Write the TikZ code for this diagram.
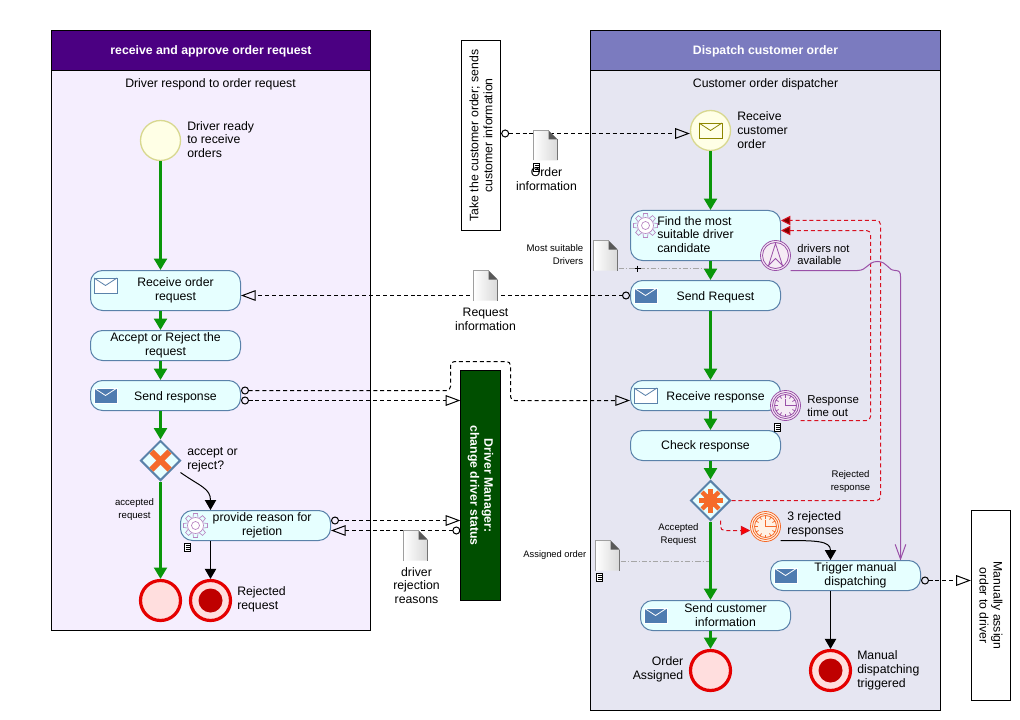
\documentclass[tikz,border=0pt]{standalone}
\usepackage{fontspec}
\setmainfont{Liberation Sans}
\usetikzlibrary{arrows.meta,shapes.geometric}
\definecolor{taskfill}{HTML}{E6FFFF}
\definecolor{taskline}{HTML}{5A82AA}
\definecolor{seqgreen}{HTML}{0A960A}
\definecolor{flowred}{HTML}{D81020}
\definecolor{flowpurple}{HTML}{9A50A8}
\definecolor{markorange}{HTML}{F56A2A}
\definecolor{envblue}{HTML}{4F7CB0}
\definecolor{leftlane}{HTML}{F5EEFE}
\definecolor{rightlane}{HTML}{E6E6F2}
\definecolor{lefthead}{HTML}{4B0082}
\definecolor{righthead}{HTML}{7B7BBF}
\definecolor{startfill}{HTML}{FFFFE6}
\definecolor{startline}{HTML}{D8D890}
\tikzset{
mainfont/.style={font=\fontsize{9.2}{10.4}\selectfont},
smallfont/.style={font=\fontsize{7.2}{9.4}\selectfont},
taskbox/.style={draw=taskline, fill=taskfill, line width=0.75pt, rounded corners=9pt, minimum width=112.5pt, minimum height=22.5pt, inner sep=0pt, align=center},
tallbox/.style={taskbox, minimum height=30pt},
icontask/.style={taskbox, label={[align=center,xshift=7.5pt]center:#1}},
onetask/.style={taskbox, label={[align=center,xshift=7.5pt,yshift=-1pt]center:#1}},
talltask/.style={tallbox, label={[align=center,xshift=7.5pt]center:#1}},
startevent/.style={circle, draw=startline, fill=startfill, line width=1pt, minimum size=30pt, inner sep=0pt},
endevent/.style={circle, draw=red!90!black, fill=red!13!white, line width=2.4pt, minimum size=30pt, inner sep=0pt},
endcore/.style={circle, fill=red!75!black, minimum size=18pt, inner sep=0pt},
gateway/.style={diamond, draw=taskline, fill=taskfill, line width=1.5pt, minimum size=30pt, inner sep=0pt},
bound/.style={circle, minimum size=22.5pt, inner sep=0pt},
lbl/.style={anchor=west, align=left, inner sep=0pt},
lblr/.style={anchor=east, align=right, inner sep=0pt},
lblc/.style={align=center, inner sep=0pt},
headbox/.style={draw=black, text=white, line width=0.75pt, minimum height=30pt, inner sep=0pt, font=\fontsize{9.2}{10.4}\selectfont\bfseries, text depth=1.4pt, text height=8pt},
blackpool/.style={draw=black, fill=white, line width=0.75pt, align=center, inner sep=0pt, minimum height=29.5pt},
seqflow/.style={draw=seqgreen, line width=2.2pt, -{Triangle[length=8.5pt,width=9.5pt,fill=seqgreen]}},
blackflow/.style={line width=0.75pt, -{Triangle[length=7.5pt,width=8.5pt]}},
msgflow/.style={line width=0.75pt, dash pattern=on 3pt off 2.2pt, {Circle[open,length=6pt,width=6pt,sep=-0pt]}-{Triangle[open,length=11pt,width=8pt]}},
redflow/.style={draw=flowred, line width=0.75pt, dash pattern=on 3pt off 2.2pt, rounded corners=3pt},
assoc/.style={draw=gray!70, line width=0.5pt, dash pattern=on 4pt off 1.5pt on 1pt off 1.5pt},
envpic/.pic={
\draw[pic actions, line width=0.6pt] (-11.5,-7.5) rectangle (11.5,7.5);
\draw[pic actions, fill=none, line width=0.6pt] (-11.5,-7.5) -- (0,0) -- (11.5,-7.5);
},
docpic/.pic={
\path[left color=white, right color=gray!30] (0,0) -- (15,0) -- (24,9) -- (24,30) -- (0,30) -- cycle;
\draw[gray!75, line width=0.5pt] (0,30) -- (0,0) -- (15,0);
\draw[gray!90!black, line width=0.5pt] (24,30) -- (24,9);
\fill[gray!70!black] (15,0) -- (24,9) -- (15,9) -- cycle;
},
notepic/.pic={
\draw[line width=0.5pt, fill=white] (-3,-4) rectangle (3,4);
\foreach \y in {-2,0,2}
{
\draw[line width=0.4pt] (-2,\y) -- (2,\y);
}
},
gearpic/.pic={
\foreach \a in {0,45,...,315}
{
\draw[flowpurple!70, line width=0.5pt, rotate=\a] (-2.5,-8) -- (-2,-12) -- (2,-12) -- (2.5,-8);
}
\draw[flowpurple!70, line width=0.5pt, fill=white] (0,0) circle [radius=8];
\draw[flowpurple!70, line width=0.5pt] (0,0) circle [radius=4];
},
clockpic/.pic={
\draw[pic actions, line width=0.6pt] (0,0) circle [radius=15];
\draw[pic actions, line width=0.6pt] (0,0) circle [radius=13];
\draw[pic actions, line width=0.6pt] (0,0) circle [radius=11];
\foreach \a in {0,30,...,330}
{
\draw[pic actions, line width=0.6pt, rotate=\a] (0,-11) -- (0,-8);
}
\draw[pic actions, line width=0.6pt] (0,-7) -- (0,0) -- (8,0);
}
}
\begin{document}
\begin{tikzpicture}[x=0.75pt, y=-0.75pt, mainfont]
\useasboundingbox (-0.5,-0.5) rectangle (1019.5,719.5);
\fill[white] (-0.5,-0.5) rectangle (1019.5,719.5);
% pools
\draw [fill=leftlane, line width=0.75pt] (51,30) rectangle (370,630);
\draw [fill=rightlane, line width=0.75pt] (590,30) rectangle (940,710);
\node [headbox, fill=lefthead, minimum width=239.25pt] (headl) at (210.5,50) {receive and approve order request};
\node [headbox, fill=righthead, minimum width=262.5pt] (headr) at (765,50) {Dispatch customer order};
\node [lblc] (lanel) at (210,84) {Driver respond to order request};
\node [lblc] (laner) at (765,84) {Customer order dispatcher};
% black box pools
\node [blackpool, rotate=90, minimum width=142.5pt] (takeorder) at (480.5,135) {Take the customer order; sends\\customer information};
\node [blackpool, rotate=-90, minimum width=172.5pt, fill=green!31!black, text=white, font=\fontsize{9.2}{10.4}\selectfont\bfseries] (drvmgr) at (480,485) {Driver Manager:\\change driver status};
\node [blackpool, rotate=-90, minimum width=142.5pt] (manual) at (990.5,605) {Manually assign\\order to driver};
% left lane
\node [startevent] (startl) at (160,140) {};
\node [talltask={Receive order\\request}] (recvorder) at (165,290) {};
\node [taskbox] (acceptrej) at (165,345) {Accept or Reject the\\request};
\node [onetask={Send response}] (sendresp) at (165,395) {};
\node [gateway] (gwl) at (160,460) {};
\node [taskbox, label={[align=center,xshift=5pt]center:provide reason for\\rejetion}] (reason) at (255,525) {};
\node [endevent] (endok) at (160,600) {};
\node [endevent] (endrej) at (210,600) {};
\node [endcore] (endrejc) at (210,600) {};
% right lane
\node [startevent] (startr) at (710,130) {};
\node [tallbox, minimum height=37.5pt] (find) at (705,235) {};
\node [onetask={Send Request}] (sendreq) at (705,295) {};
\node [onetask={Receive response}] (recvresp) at (705,395) {};
\node [taskbox, text height=8pt, text depth=1.4pt] (check) at (705,445) {Check response};
\node [gateway] (gwr) at (710,500) {};
\node [icontask={Send customer\\information}] (sendcust) at (715,615) {};
\node [icontask={Trigger manual\\dispatching}] (trigger) at (845,575) {};
\node [endevent] (endass) at (710,670) {};
\node [endevent] (endman) at (830,670) {};
\node [endcore] (endmanc) at (830,670) {};
\node [bound] (nodrv) at (775,255) {};
\node [bound] (timeout) at (785,405) {};
\node [bound] (timer) at (765,526) {};
% sequence flows
\foreach \a/\b in {startl/recvorder, recvorder/acceptrej, acceptrej/sendresp, sendresp/gwl, gwl/endok}
{
\draw [seqflow] (\a.south -| startl) -- (\b.north -| startl);
}
\foreach \a/\b in {startr/find, find/sendreq, sendreq/recvresp, recvresp/check, check/gwr, gwr/sendcust, sendcust/endass}
{
\draw [seqflow] (\a.south -| startr) -- (\b.north -| startr);
}
\coordinate (gwlexit) at (180,472);
\draw [blackflow] (gwlexit) .. controls (200,486) and (210,488) .. (reason.north -| endrej);
\draw [blackflow] (reason.south -| endrej) -- (endrej.north);
\draw [blackflow] (trigger.south -| endman) -- (endman.north);
\coordinate (timerexit) at (780,540);
\draw [blackflow] (timerexit) .. controls (815,540) and (830,540) .. (trigger.north -| endman);
% message flows
\draw [msgflow] ([yshift=1.5pt]takeorder.south) -- ([yshift=-2.25pt]startr.west);
\draw [msgflow] (sendreq.west) -- (recvorder.east |- sendreq.west);
\draw [msgflow] ([yshift=-3.75pt]sendresp.east) -- ([yshift=-3.75pt]sendresp.east -| drvmgr.south);
\coordinate (bendup) at (450,361);
\coordinate (benddown) at (510,400);
\draw [msgflow, rounded corners=3pt] ([yshift=3.75pt]sendresp.east) -| (bendup) -| (benddown) -- ([yshift=-3.75pt]recvresp.west);
\draw [msgflow] ([yshift=3.75pt]reason.east) -- ([yshift=3.75pt]reason.east -| drvmgr.south);
\draw [msgflow] ([yshift=-3.75pt]reason.east -| drvmgr.south) -- ([yshift=-3.75pt]reason.east);
\draw [msgflow] ([yshift=-3.75pt]trigger.east) -- ([yshift=-3.75pt]trigger.east -| manual.south);
% red and purple flows
\coordinate (redouter) at (880,220);
\coordinate (redinner) at (870,230);
\coordinate (timeoutexit) at (800,420);
\draw [redflow] (gwr.east) -| (redouter) -- (redouter -| find.east) [-{Triangle[length=7pt,width=7pt,fill=red!50!black]}];
\draw [redflow] (timeoutexit) -| (redinner) -- (redinner -| find.east) [-{Triangle[length=7pt,width=7pt,fill=red!50!black]}];
\coordinate (gwrexit) at (720,520);
\coordinate (gwrturn) at (720,530);
\draw [redflow, -{Triangle[length=7pt,width=7pt,fill=red]}] (gwrexit) -- (gwrturn) -- ([yshift=-3pt]timer.west);
\coordinate (nodrvexit) at (790,270);
\draw [flowpurple, line width=0.75pt, -{Straight Barb[length=11pt,width=8pt]}] (nodrvexit) -- (857,270) .. controls (867,270) and (867,261) .. (877,261) .. controls (887,261) and (887,270) .. (895,270) .. controls (899,270) and (900,272) .. (900,276) -- (900,560);
% associations
\coordinate (drvdocout) at (618,268);
\coordinate (drvseq) at (707,268);
\coordinate (assdocout) at (620,561);
\coordinate (assseq) at (708,561);
\draw [assoc] (drvdocout) -- (drvseq);
\draw [assoc] (assdocout) -- (assseq);
% gateway marks
\draw [markorange, line width=4.5pt] (151,451) -- (169,469);
\draw [markorange, line width=4.5pt] (169,451) -- (151,469);
\foreach \a in {0,45,90,135}
{
\draw [markorange, line width=3.2pt, rotate around={\a:(gwr)}] (698,500) -- (722,500);
}
\fill [markorange] (gwr) circle [radius=7];
% boundary events
\pic [draw=flowpurple, fill=violet!8!white] at (785,405) {clockpic};
\pic [draw=markorange, fill=orange!10!white] at (765,526) {clockpic};
\draw [flowpurple, line width=0.6pt, fill=violet!8!white] (nodrv) circle [radius=15];
\draw [flowpurple, line width=0.6pt] (nodrv) circle [radius=13];
\draw [flowpurple, line width=0.6pt] (775,243) -- (782,265) -- (775,258) -- (768,265) -- cycle;
% icons
\pic [draw=taskline, fill=white] at (105,285) {envpic};
\pic [draw=white, fill=envblue] at (105,395) {envpic};
\pic [draw=white, fill=envblue] at (645,295) {envpic};
\pic [draw=taskline, fill=white] at (645,395) {envpic};
\pic [draw=white, fill=envblue] at (655,615) {envpic};
\pic [draw=white, fill=envblue] at (785,575) {envpic};
\pic [draw=olive, fill=startfill] at (710,130) {envpic};
\pic at (645,225) {gearpic};
\pic at (195,525) {gearpic};
\pic at (533,130) {docpic};
\pic at (473,270) {docpic};
\pic at (593,240) {docpic};
\pic at (595,540) {docpic};
\pic at (403,530) {docpic};
\pic at (536,167) {notepic};
\pic at (187,547) {notepic};
\pic at (777,427) {notepic};
\pic at (599,577) {notepic};
\draw [line width=1pt] (634,268) -- (640,268) (637,265) -- (637,271);
% labels
\node [lbl] (lstartl) at (186.5,139) {Driver ready\\to receive\\orders};
\node [lbl] (lgwl) at (186.5,459) {accept or\\reject?};
\node [lblc, smallfont] (laccl) at (134,509) {accepted\\request};
\node [lbl] (lrej) at (236.5,599) {Rejected\\request};
\node [lbl] (lstartr) at (736.5,129.5) {Receive\\customer\\order};
\node [lbl] (lfind) at (656.5,234) {Find the most\\suitable driver\\candidate};
\node [lbl, font=\fontsize{8.4}{9.2}\selectfont] (lnodrv) at (796.5,254) {drivers not\\available};
\node [lbl, font=\fontsize{8.6}{10}\selectfont] (ltimeout) at (806.5,405.5) {Response\\time out};
\node [lblc, smallfont] (lrejr) at (850,481) {Rejected\\response};
\node [lblc, smallfont] (laccr) at (678,534) {Accepted\\Request};
\node [lbl] (ltimer) at (786.5,524) {3 rejected\\responses};
\node [lblr] (lass) at (683,669) {Order\\Assigned};
\node [lbl] (lman) at (856.5,670) {Manual\\dispatching\\triggered};
\node [lblc] (ldocord) at (546,179) {Order\\information};
\node [lblc] (ldocreq) at (485,319) {Request\\information};
\node [lblc] (ldocrej) at (416,585) {driver\\rejection\\reasons};
\node [lblr, smallfont] (ldocdrv) at (583,254) {Most suitable\\Drivers};
\node [lblr, font=\fontsize{7}{9}\selectfont] (ldocass) at (586,555) {Assigned order};
\end{tikzpicture}
\end{document}
